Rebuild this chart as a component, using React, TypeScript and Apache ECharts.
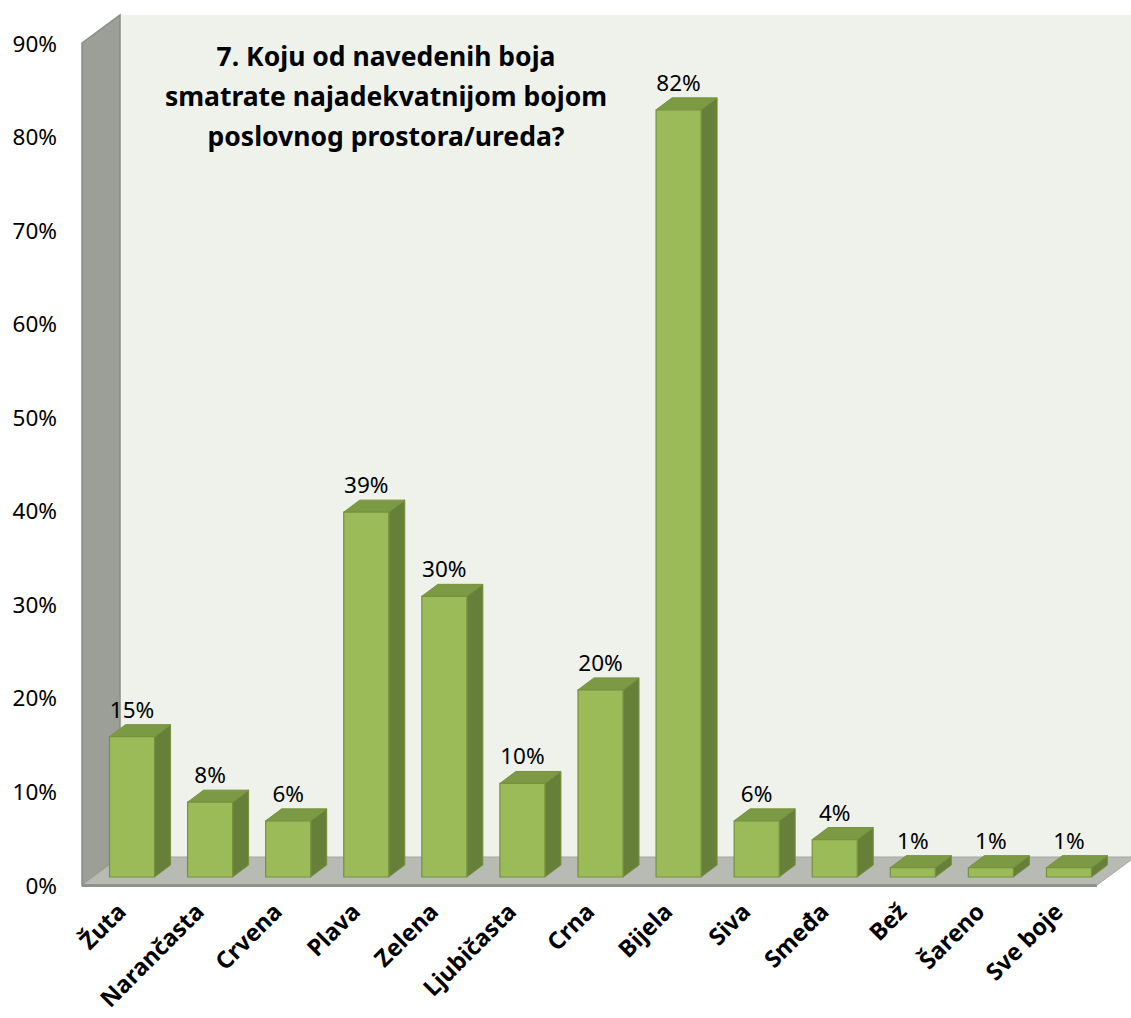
import React, { useEffect, useRef } from "react";
import * as echarts from "echarts";

const categories = ["Žuta", "Narančasta", "Crvena", "Plava", "Zelena", "Ljubičasta", "Crna", "Bijela", "Siva", "Smeđa", "Bež", "Šareno", "Sve boje"];
const values = [15, 8, 6, 39, 30, 10, 20, 82, 6, 4, 1, 1, 1];
const titleLines = ["7. Koju od navedenih boja", "smatrate najadekvatnijom bojom", "poslovnog prostora/ureda?"];

const FONT = "'Noto Sans', 'DejaVu Sans', sans-serif";
// 3D geometry (pixels)
const WALL_DX = 38, WALL_DY = -28;
const BAR_FX = 11, BAR_FY = -8;
const BAR_DX = 16, BAR_DY = -12;
const BAR_RATIO = 0.577;

export default function App() {
  const ref = useRef<HTMLDivElement>(null);
  useEffect(() => {
    if (!ref.current) return;
    const chart = echarts.init(ref.current, null, { renderer: "svg" });
    const option: any = {
      animation: false,
      backgroundColor: "#ffffff",
      grid: { left: 82, right: 34, top: 43, bottom: 133, containLabel: false },
      xAxis: {
        type: "category",
        data: categories,
        axisLine: { show: false },
        axisTick: { show: false },
        axisLabel: {
          rotate: 45,
          interval: 0,
          margin: 22,
          fontFamily: FONT,
          fontWeight: "bold",
          fontSize: 23.5,
          color: "#000",
        },
      },
      yAxis: {
        type: "value",
        min: 0,
        max: 90,
        interval: 10,
        axisLine: { show: false },
        axisTick: { show: false },
        splitLine: { show: false },
        axisLabel: {
          formatter: "{value}%",
          margin: 25,
          fontFamily: FONT,
          fontSize: 22.5,
          color: "#000",
        },
      },
      series: [
        {
          type: "custom",
          z: 1,
          silent: true,
          data: [[0, 0]],
          renderItem: (params: any, api: any) => {
            const cs = params.coordSys;
            const gx = cs.x, gy = cs.y, gw = cs.width, gh = cs.height;
            return {
              type: "group",
              children: [
                {
                  type: "rect",
                  shape: { x: gx + WALL_DX, y: gy + WALL_DY, width: gw + 20, height: gh },
                  style: { fill: "#eff2eb" },
                },
                {
                  type: "polygon",
                  shape: { points: [[gx, gy], [gx + WALL_DX, gy + WALL_DY], [gx + WALL_DX, gy + gh + WALL_DY], [gx, gy + gh]] },
                  style: { fill: "#9c9e98", stroke: "#8a8c86", lineWidth: 1.5 },
                },
                {
                  type: "polygon",
                  shape: { points: [[gx, gy + gh], [gx + WALL_DX, gy + gh + WALL_DY], [gx + gw + WALL_DX, gy + gh + WALL_DY], [gx + gw, gy + gh]] },
                  style: { fill: "#b8bab4", stroke: "#a4a6a0", lineWidth: 1 },
                },
                {
                  type: "rect",
                  shape: { x: gx, y: gy + gh - 1, width: gw, height: 3 },
                  style: { fill: "#8f918b" },
                },
              ],
            };
          },
        },
        {
          type: "custom",
          z: 2,
          data: values.map((v, i) => [i, v]),
          renderItem: (params: any, api: any) => {
            const i = api.value(0);
            const v = api.value(1);
            const base = api.coord([i, 0]);
            const top = api.coord([i, v]);
            const bw = api.size([1, 0])[0] * BAR_RATIO;
            const x0 = base[0] - bw / 2 + BAR_FX;
            const x1 = x0 + bw;
            const yb = base[1] + BAR_FY;
            const yt = top[1] + BAR_FY;
            const stroke = "#76913f";
            return {
              type: "group",
              children: [
                {
                  type: "polygon",
                  shape: { points: [[x1, yt], [x1 + BAR_DX, yt + BAR_DY], [x1 + BAR_DX, yb + BAR_DY], [x1, yb]] },
                  style: { fill: "#66803a", stroke, lineWidth: 1 },
                },
                {
                  type: "polygon",
                  shape: { points: [[x0, yt], [x0 + BAR_DX, yt + BAR_DY], [x1 + BAR_DX, yt + BAR_DY], [x1, yt]] },
                  style: { fill: "#7c9a44", stroke, lineWidth: 1 },
                },
                {
                  type: "rect",
                  shape: { x: x0, y: yt, width: bw, height: yb - yt },
                  style: { fill: "#9bbb59", stroke, lineWidth: 1.2 },
                },
                {
                  type: "text",
                  style: {
                    text: v + "%",
                    x: (x0 + x1) / 2,
                    y: yt + BAR_DY - 4,
                    textAlign: "center",
                    textVerticalAlign: "bottom",
                    font: `22.5px ${FONT}`,
                    fill: "#000",
                  },
                },
              ],
            };
          },
        },
      ],
      graphic: [
        {
          type: "text",
          z: 10,
          x: 386,
          y: 36,
          style: {
            text: titleLines.join("\n"),
            textAlign: "center",
            textVerticalAlign: "top",
            font: `bold 26.5px ${FONT}`,
            lineHeight: 40,
            fill: "#000",
          },
        },
      ],
    };
    chart.setOption(option);
    return () => chart.dispose();
  }, []);
  return <div ref={ref} style={{ position: "absolute", left: 0, top: 0, width: 1131, height: 1018 }} />;
}
